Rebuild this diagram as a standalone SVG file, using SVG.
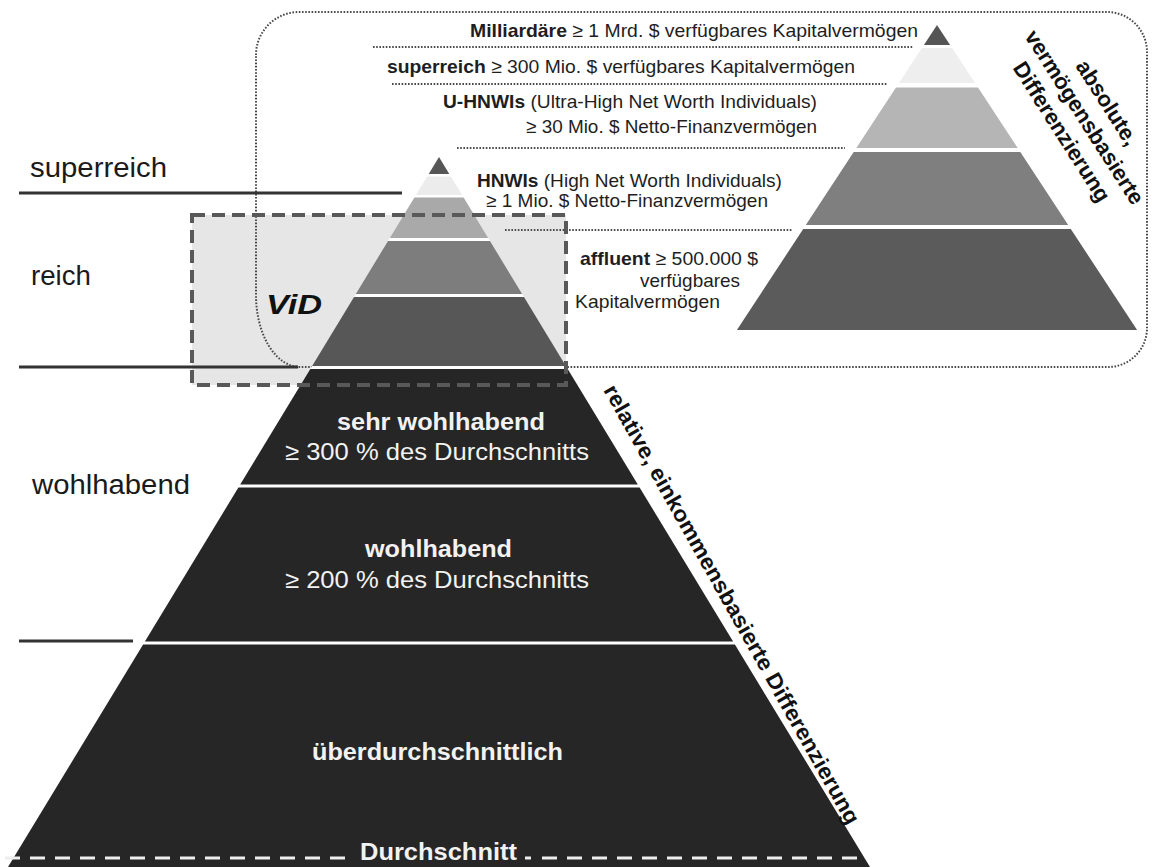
<svg xmlns="http://www.w3.org/2000/svg" width="1152" height="867" viewBox="0 0 1152 867">
<style>
text{font-family:"Liberation Sans",Arial,Helvetica,sans-serif}
.t19{font-size:19px;fill:#1e1e1e}
.b{font-weight:bold}
.lab{font-size:27px;fill:#1a1a1a}
.wt{font-size:24px;fill:#f2f2f2}
.dot{fill:none;stroke:#4a4a4a;stroke-width:2;stroke-dasharray:1.6 1.6}
.lvl{stroke:#333;stroke-width:3}
.rot{font-size:22px;font-weight:bold;fill:#111}
</style>
<rect width="1152" height="867" fill="#fff"/>

<g id="vid-box-fill">
<rect x="192" y="215" width="374" height="170" fill="#e6e6e6"/>
</g>

<g id="absolute-frame">
<path class="dot" d="M256,55 A43,43 0 0 1 299,12 H1107 A40,40 0 0 1 1147,52 V328 A39,39 0 0 1 1108,367 H300 A44,72 0 0 1 256,295 Z"/>
</g>

<g id="connectors">
<line class="dot" x1="373" y1="47" x2="913" y2="47"/>
<line class="dot" x1="392" y1="84" x2="888" y2="84"/>
<line class="dot" x1="457" y1="148" x2="845" y2="148"/>
<line class="dot" x1="505" y1="230" x2="793" y2="230"/>
<line class="lvl" x1="19" y1="193" x2="402" y2="193"/>
<line class="lvl" x1="19" y1="367" x2="298" y2="367"/>
<line class="lvl" x1="19" y1="641" x2="133" y2="641"/>
</g>

<g id="left-labels">
<text class="lab" x="30" y="177" textLength="137" lengthAdjust="spacingAndGlyphs">superreich</text>
<text class="lab" x="31" y="285" textLength="60" lengthAdjust="spacingAndGlyphs">reich</text>
<text class="lab" x="32" y="494" textLength="158" lengthAdjust="spacingAndGlyphs">wohlhabend</text>
</g>

<g id="main-pyramid">
<polygon points="439,157 870,867 8,867" fill="#fff"/>
<polygon points="439,157 449.3,174 428.7,174" fill="#565656"/>
<polygon points="427.2,176.5 450.8,176.5 462.1,195 415.9,195" fill="#ececec"/>
<polygon points="414.4,197.5 463.6,197.5 488.2,238 389.8,238" fill="#a9a9a9"/>
<polygon points="388,241 490,241 522.2,294 355.8,294" fill="#7d7d7d"/>
<polygon points="354,297 524,297 565.9,366 312.1,366" fill="#575757"/>
<polygon points="310.3,369 567.7,369 637.8,484.5 240.2,484.5" fill="#262626"/>
<polygon points="238.4,487.5 639.6,487.5 733.1,641.5 144.9,641.5" fill="#262626"/>
<polygon points="143.1,644.5 734.9,644.5 870,867 8,867" fill="#262626"/>
</g>

<g id="vid-box">
<rect x="192" y="215" width="374" height="170" fill="none" stroke="#595959" stroke-width="4" stroke-dasharray="13 7"/>
<text x="266" y="314" font-size="28" font-weight="bold" font-style="italic" fill="#111" textLength="56" lengthAdjust="spacingAndGlyphs">ViD</text>
</g>

<g id="relative-levels">
<text class="wt b" x="337" y="430" textLength="208" lengthAdjust="spacingAndGlyphs">sehr wohlhabend</text>
<text class="wt" x="285" y="460" textLength="304" lengthAdjust="spacingAndGlyphs">≥ 300 % des Durchschnitts</text>
<text class="wt b" x="365" y="557" textLength="147" lengthAdjust="spacingAndGlyphs">wohlhabend</text>
<text class="wt" x="285" y="588" textLength="304" lengthAdjust="spacingAndGlyphs">≥ 200 % des Durchschnitts</text>
<text class="wt b" x="312" y="760" textLength="251" lengthAdjust="spacingAndGlyphs">überdurchschnittlich</text>
</g>

<g id="durchschnitt">
<line x1="5" y1="858" x2="347" y2="858" stroke="#eeeeee" stroke-width="3" stroke-dasharray="15 10"/>
<line x1="525" y1="858" x2="531" y2="858" stroke="#eeeeee" stroke-width="3"/>
<line x1="542" y1="858" x2="864" y2="858" stroke="#eeeeee" stroke-width="3" stroke-dasharray="15 10"/>
<text class="wt b" x="360" y="860" textLength="157" lengthAdjust="spacingAndGlyphs">Durchschnitt</text>
</g>

<g id="relative-label">
<text class="rot" transform="translate(603,390) rotate(60.7)" textLength="500" lengthAdjust="spacingAndGlyphs">relative, einkommensbasierte Differenzierung</text>
</g>

<g id="absolute-pyramid">
<polygon points="937,25 950.1,45 923.9,45" fill="#555"/>
<polygon points="921.9,48 952.1,48 975,83 899,83" fill="#eeeeee"/>
<polygon points="896,87.5 978,87.5 1017.7,148 856.3,148" fill="#b5b5b5"/>
<polygon points="853.7,152 1020.3,152 1068.2,225 805.8,225" fill="#7f7f7f"/>
<polygon points="803.2,229 1070.8,229 1137.1,330 736.9,330" fill="#5b5b5b"/>
</g>

<g id="absolute-label" transform="translate(1085,117) rotate(57.5)">
<text class="rot" x="0" y="-19" text-anchor="middle">absolute,</text>
<text class="rot" x="0" y="8" text-anchor="middle">vermögensbasierte</text>
<text class="rot" x="0" y="35" text-anchor="middle">Differenzierung</text>
</g>

<g id="absolute-levels">
<text class="t19" x="470" y="37" textLength="448" lengthAdjust="spacingAndGlyphs"><tspan class="b">Milliardäre</tspan> ≥ 1 Mrd. $ verfügbares Kapitalvermögen</text>
<text class="t19" x="387" y="73" textLength="468" lengthAdjust="spacingAndGlyphs"><tspan class="b">superreich</tspan> ≥ 300 Mio. $ verfügbares Kapitalvermögen</text>
<text class="t19" x="443" y="108" textLength="374" lengthAdjust="spacingAndGlyphs"><tspan class="b">U-HNWIs</tspan> (Ultra-High Net Worth Individuals)</text>
<text class="t19" x="526" y="133" textLength="291" lengthAdjust="spacingAndGlyphs">≥ 30 Mio. $ Netto-Finanzvermögen</text>
<text class="t19" x="477" y="187" textLength="305" lengthAdjust="spacingAndGlyphs"><tspan class="b">HNWIs</tspan> (High Net Worth Individuals)</text>
<text class="t19" x="486" y="207" textLength="282" lengthAdjust="spacingAndGlyphs">≥ 1 Mio. $ Netto-Finanzvermögen</text>
<text class="t19" x="580" y="265" textLength="178" lengthAdjust="spacingAndGlyphs"><tspan class="b">affluent</tspan> ≥ 500.000 $</text>
<text class="t19" x="640" y="287" textLength="100" lengthAdjust="spacingAndGlyphs">verfügbares</text>
<text class="t19" x="575" y="308" textLength="145" lengthAdjust="spacingAndGlyphs">Kapitalvermögen</text>
</g>
</svg>
